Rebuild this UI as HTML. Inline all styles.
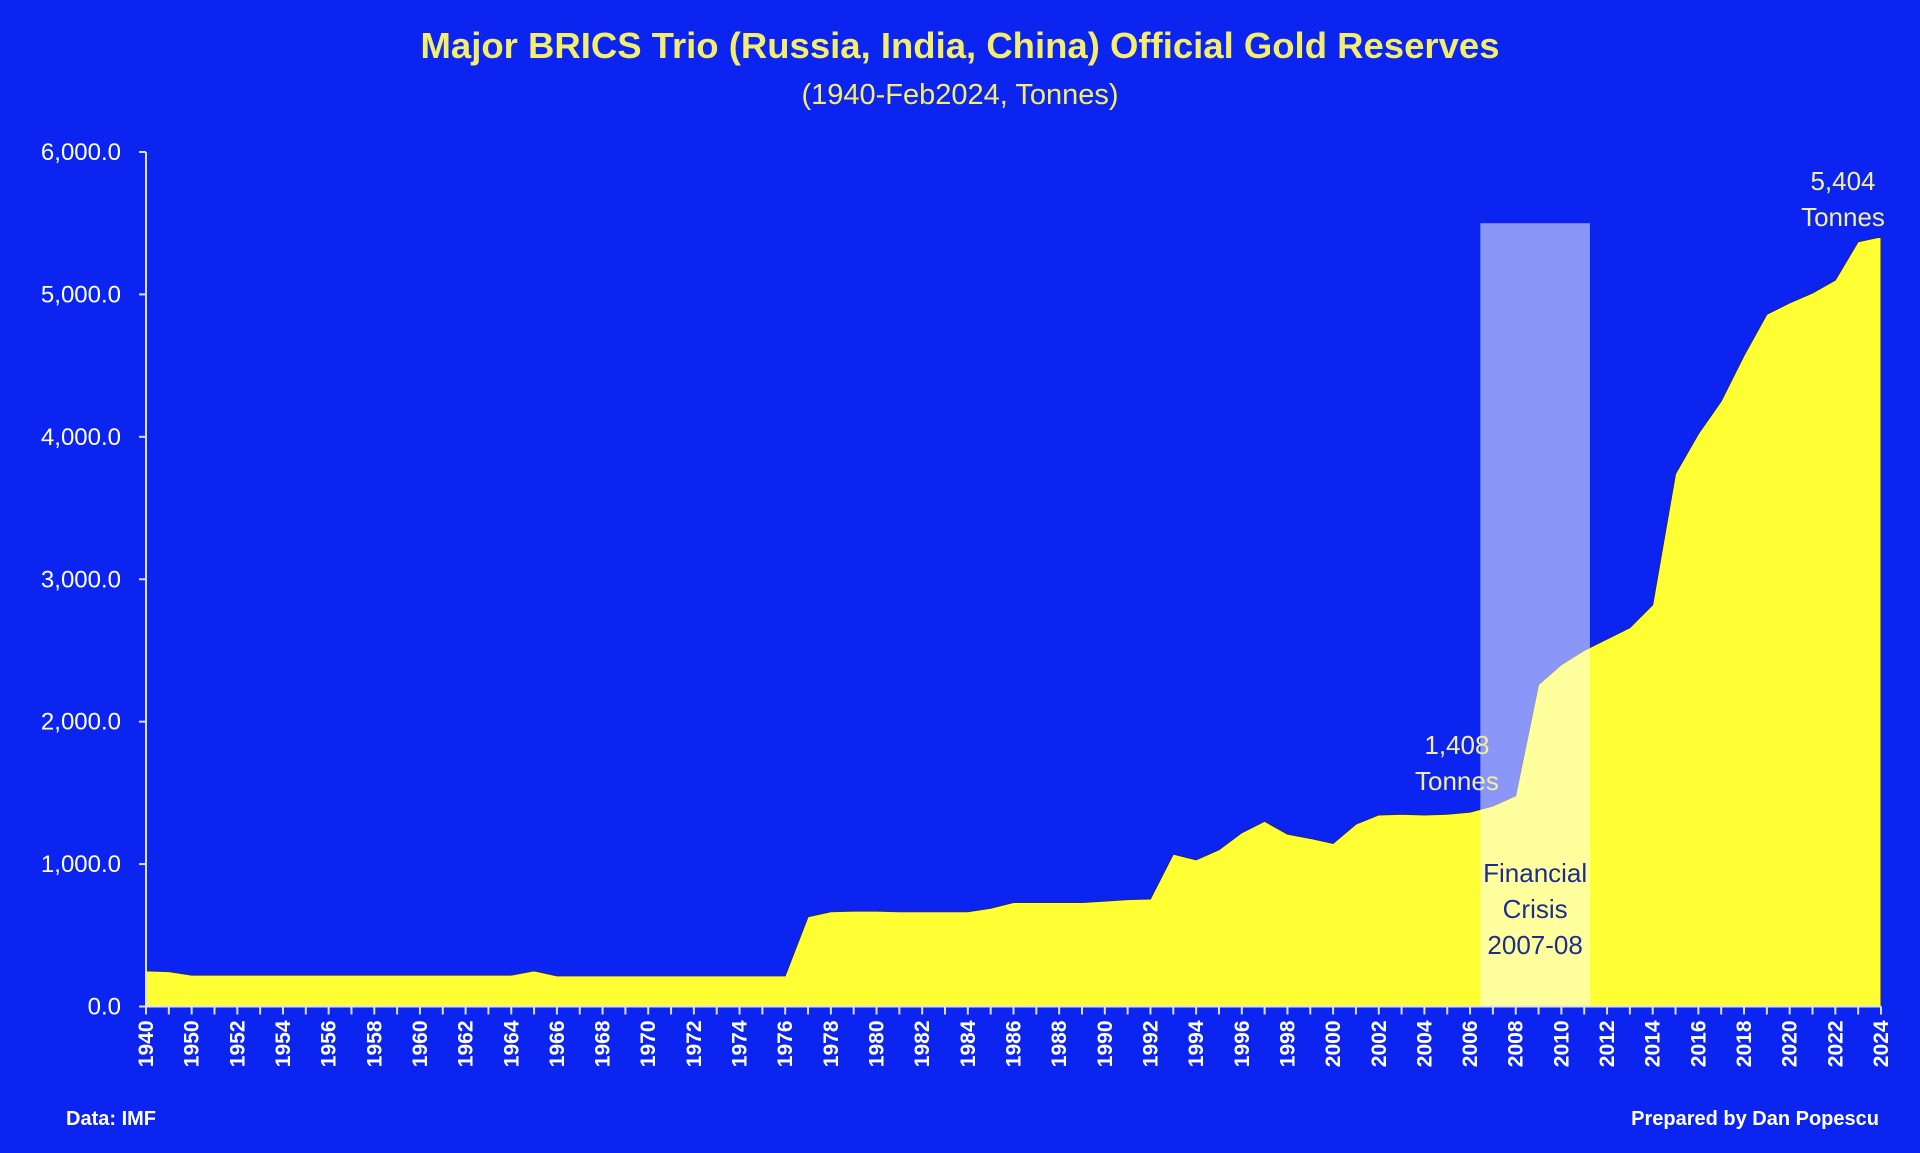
<!DOCTYPE html>
<html><head><meta charset="utf-8"><style>
html,body{margin:0;padding:0;background:#0b24f0;}
svg{display:block;font-family:"Liberation Sans",sans-serif;}
</style></head><body>
<svg id="chart" width="1920" height="1153" viewBox="0 0 1920 1153" xmlns="http://www.w3.org/2000/svg">
<rect x="0" y="0" width="1920" height="1153" fill="#0b24f0"/>
<text x="960" y="58" text-anchor="middle" font-size="36.5" font-weight="bold" fill="#f4ee6e">Major BRICS Trio (Russia, India, China) Official Gold Reserves</text>
<text x="960" y="104" text-anchor="middle" font-size="29" fill="#f4ee6e">(1940-Feb2024, Tonnes)</text>
<g id="plot"></g>
<text x="66" y="1125" font-size="20" font-weight="bold" fill="#ffffff">Data: IMF</text>
<text x="1879" y="1125" text-anchor="end" font-size="20" font-weight="bold" fill="#ffffff">Prepared by Dan Popescu</text>
</svg>
<script>
const years = ["1940","1945","1950","1951","1952","1953","1954","1955","1956","1957","1958","1959","1960","1961","1962","1963","1964","1965","1966","1967","1968","1969","1970","1971","1972","1973","1974","1975","1976","1977","1978","1979","1980","1981","1982","1983","1984","1985","1986","1987","1988","1989","1990","1991","1992","1993","1994","1995","1996","1997","1998","1999","2000","2001","2002","2003","2004","2005","2006","2007","2008","2009","2010","2011","2012","2013","2014","2015","2016","2017","2018","2019","2020","2021","2022","2023","2024"];
const tonnes = [250,245,220,220,220,220,220,220,220,220,220,220,220,220,220,220,220,250,215,215,215,215,215,215,215,215,215,215,215,630,665,670,670,665,665,665,665,690,730,730,730,730,740,750,755,1070,1030,1100,1220,1300,1210,1180,1145,1280,1345,1350,1345,1350,1365,1408,1480,2260,2400,2500,2580,2660,2820,3740,4020,4250,4570,4860,4940,5010,5100,5370,5404];
const yTicks = [0,1000,2000,3000,4000,5000,6000];
const yTickLabels = ["0.0","1,000.0","2,000.0","3,000.0","4,000.0","5,000.0","6,000.0"];
const crisisStart = "2007", crisisEnd = "2011";
const crisisTop = 5500;

const NS="http://www.w3.org/2000/svg";
const X0=146, X1=1881, Y0=1006.5, YT=152, YMAX=6000;
const step=(X1-X0)/(years.length-1);
function xPos(i){return X0+i*step;}
function yPos(v){return Y0-(v/YMAX)*(Y0-YT);}
const plot=document.getElementById('plot');
function mk(tag,attrs){const e=document.createElementNS(NS,tag);for(const k in attrs)e.setAttribute(k,attrs[k]);plot.appendChild(e);return e;}

let d=`M${xPos(0)},${Y0}`;
tonnes.forEach((v,i)=>{d+=` L${xPos(i)},${yPos(v)}`;});
d+=` L${xPos(tonnes.length-1)},${Y0} Z`;
const area=mk('path',{d:d,fill:'#ffff33',stroke:'#2a2a60','stroke-width':'1'});



const bi=years.indexOf(crisisStart)-0.55, be=years.indexOf(crisisEnd)+0.25;
const band=mk('rect',{x:xPos(bi),y:yPos(crisisTop),width:xPos(be)-xPos(bi),height:Y0-yPos(crisisTop),fill:'#ffffff','fill-opacity':'0.52'});



const ya=mk('line',{x1:X0,y1:YT,x2:X0,y2:Y0,stroke:'#dde0f0','stroke-width':'2'});


const xa=mk('line',{x1:X0,y1:Y0,x2:X1,y2:Y0,stroke:'#dde0f0','stroke-width':'2'});



yTicks.forEach((v,i)=>{
  const y=yPos(v);
  const t=mk('line',{x1:X0-7,y1:y,x2:X0,y2:y,stroke:'#dde0f0','stroke-width':'2'});
  
  
  const l=mk('text',{x:121,y:y+8,'text-anchor':'end','font-size':'24',fill:'#ffffff'});
  l.textContent=yTickLabels[i];
  
  
});

years.forEach((yr,i)=>{
  const x=xPos(i);
  const t=mk('line',{x1:x,y1:Y0,x2:x,y2:Y0+8,stroke:'#dde0f0','stroke-width':'2'});
  
  
  if(i%2===0){
    const l=mk('text',{x:0,y:0,'text-anchor':'end','font-size':'21','font-weight':'bold',fill:'#ffffff',transform:`translate(${x+7},${Y0+14}) rotate(-90)`});
    l.textContent=yr;
    
    
  }
});

function label(lines,cx,y0,color,name,size){
  lines.forEach((s,k)=>{
    const l=mk('text',{x:cx,y:y0+k*36,'text-anchor':'middle','font-size':size,fill:color});
    l.textContent=s;
    
    
  });
}
const i07=years.indexOf("2007"), iLast=years.length-1;
label(["1,408","Tonnes"],xPos(i07)-36,754,'#f3ee9a','annotation-1408',26);
label(["5,404","Tonnes"],xPos(iLast)-38,190,'#f3ee9a','annotation-5404',26);
label(["Financial","Crisis","2007-08"],(xPos(bi)+xPos(be))/2,882,'#1d2c8f','crisis-label',26);
</script>
</body></html>
